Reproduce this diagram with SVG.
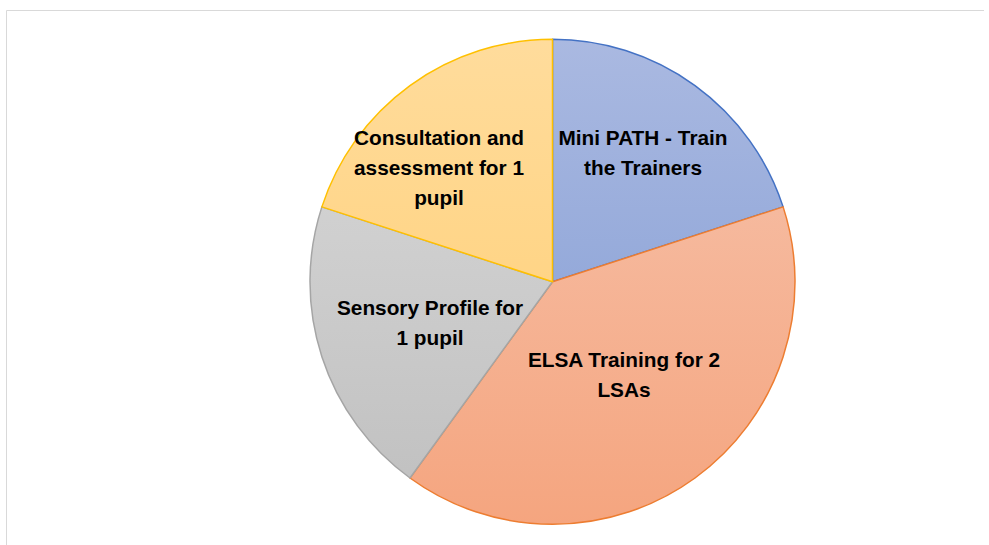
<svg xmlns="http://www.w3.org/2000/svg" width="989" height="545" viewBox="0 0 989 545">
<style>
.lbl{font-family:"Liberation Sans",Arial,sans-serif;font-weight:bold;font-size:20.8px;fill:#000;text-anchor:middle}
.sl{stroke-width:1.5;stroke-linejoin:round}
</style>
<defs>
<linearGradient id="gB" gradientUnits="userSpaceOnUse" x1="0" y1="39" x2="0" y2="525"><stop offset="0" stop-color="#aab9e1"/><stop offset="1" stop-color="#7f9ad3"/></linearGradient>
<linearGradient id="gO" gradientUnits="userSpaceOnUse" x1="0" y1="39" x2="0" y2="525"><stop offset="0" stop-color="#f6c4ae"/><stop offset="1" stop-color="#f5a57f"/></linearGradient>
<linearGradient id="gG" gradientUnits="userSpaceOnUse" x1="0" y1="39" x2="0" y2="525"><stop offset="0" stop-color="#dadada"/><stop offset="1" stop-color="#bfbfbf"/></linearGradient>
<linearGradient id="gY" gradientUnits="userSpaceOnUse" x1="0" y1="39" x2="0" y2="525"><stop offset="0" stop-color="#ffdc9c"/><stop offset="1" stop-color="#ffcd70"/></linearGradient>
</defs>
<path d="M6.5,545 L6.5,10.5 L984,10.5" fill="none" stroke="#d9d9d9" stroke-width="1"/>
<g id="mini-path">
<path class="sl" d="M552.5,281.8 L552.5,39.3 A242.5,242.5 0 0 1 783.13,206.86 Z" fill="url(#gB)" stroke="#4472c4"/>
</g>
<g id="elsa">
<path class="sl" d="M552.5,281.8 L783.13,206.86 A242.5,242.5 0 0 1 409.96,477.99 Z" fill="url(#gO)" stroke="#ed7d31"/>
</g>
<g id="sensory">
<path class="sl" d="M552.5,281.8 L409.96,477.99 A242.5,242.5 0 0 1 321.87,206.86 Z" fill="url(#gG)" stroke="#a5a5a5"/>
</g>
<g id="consultation">
<path class="sl" d="M552.5,281.8 L321.87,206.86 A242.5,242.5 0 0 1 552.5,39.3 Z" fill="url(#gY)" stroke="#ffc000"/>
</g>
<g id="labels">
<text class="lbl" x="643" y="145">Mini PATH - Train</text>
<text class="lbl" x="643" y="175">the Trainers</text>
<text class="lbl" x="439" y="145">Consultation and</text>
<text class="lbl" x="439" y="175">assessment for 1</text>
<text class="lbl" x="439" y="205">pupil</text>
<text class="lbl" x="430" y="315">Sensory Profile for</text>
<text class="lbl" x="430" y="345">1 pupil</text>
<text class="lbl" x="624" y="367">ELSA Training for 2</text>
<text class="lbl" x="624" y="397">LSAs</text>
</g>
</svg>
